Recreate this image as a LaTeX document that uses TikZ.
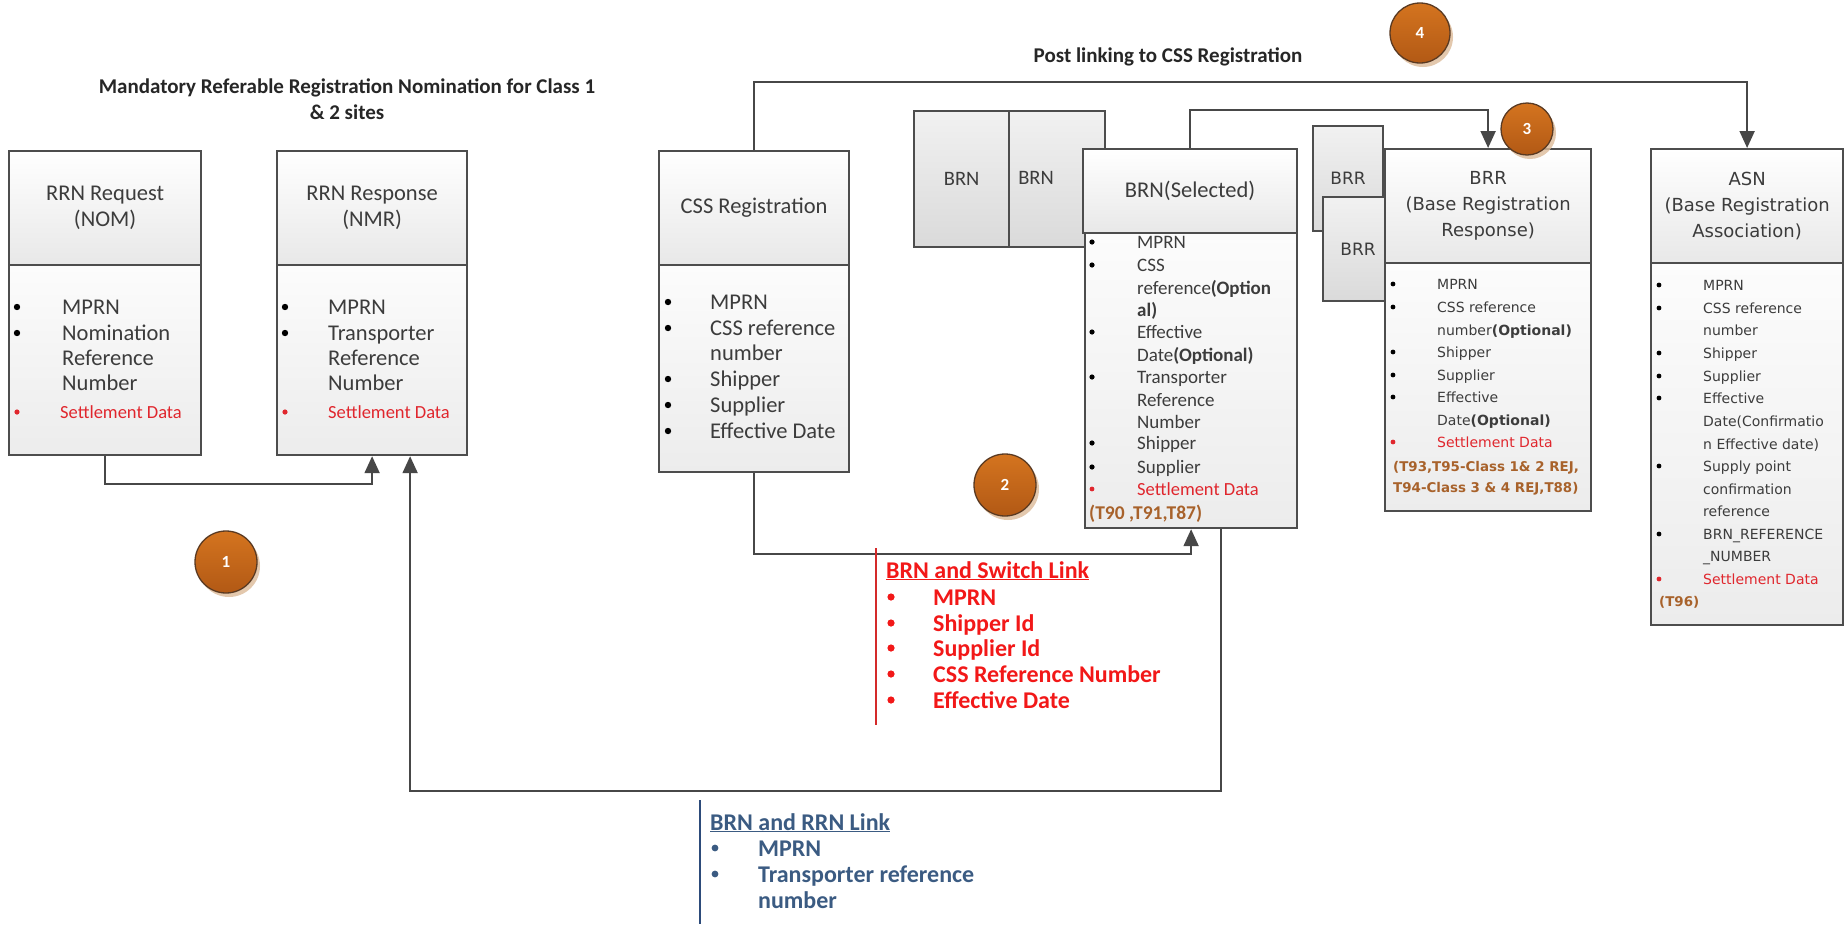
\documentclass[tikz,border=0pt]{standalone}
\usepackage{fontspec}
\setmainfont{Carlito}
\newfontfamily\dvs{DejaVu Sans}
\usetikzlibrary{arrows.meta,shadows,calc}
\definecolor{boxc}{HTML}{4D4D4D}
\definecolor{connc}{HTML}{474747}
\definecolor{txtc}{HTML}{3C3C3C}
\definecolor{setc}{HTML}{E0262D}
\definecolor{brownc}{HTML}{A8622B}
\definecolor{swc}{HTML}{F21818}
\definecolor{rrnc}{HTML}{3B5B82}
\definecolor{redln}{HTML}{D42A2A}
\definecolor{blueln}{HTML}{2D4B7A}
\definecolor{hdrbot}{HTML}{E8E8E8}
\definecolor{bodytop}{HTML}{FCFCFC}
\definecolor{bodybot}{HTML}{ECECEC}
\definecolor{smtop}{HTML}{F1F1F1}
\definecolor{smbot}{HTML}{DADADA}
\definecolor{ctop}{HTML}{D4741F}
\definecolor{cbot}{HTML}{B25915}
\definecolor{cbord}{HTML}{5A3A22}
\definecolor{cshad}{HTML}{DDBB99}
\definecolor{titc}{HTML}{262626}
\pgfdeclarelayer{bg}\pgfsetlayers{bg,main}
\newcounter{ln}
\newcommand\fs[2]{\fontsize{#1}{#2}\selectfont}
\newcommand\li[3]{\stepcounter{ln}\node[lt] (l\theln) at (#1,#2+\off) {#3};}
\newcommand\bu[3]{\fill[#1] (#2,#3) circle (\br);}
\tikzset{
  hdr/.style={draw=boxc, line width=2.2pt, top color=white, bottom color=hdrbot, anchor=north west, inner sep=0pt, align=center, text=txtc, font=\fs{22.5}{26}},
  bod/.style={draw=boxc, line width=2.2pt, top color=bodytop, bottom color=bodybot, anchor=north west, inner sep=0pt},
  smb/.style={draw=boxc, line width=2.2pt, top color=smtop, bottom color=smbot, anchor=north west, inner sep=0pt},
  conn/.style={draw=connc, line width=2pt, -{Triangle[length=17pt,width=15pt]}},
  num/.style={circle, draw=cbord, line width=1.3pt, top color=ctop, bottom color=cbot, text=white, font=\bfseries\fs{17}{17}, inner sep=0pt, drop shadow={shadow xshift=3pt, shadow yshift=-4pt, fill=cshad, opacity=.8}},
  shad/.style={fill=black, opacity=0.12},
  plain/.style={inner sep=0pt}
}
\begin{document}
\begin{tikzpicture}[x=1pt,y=-1pt]
\useasboundingbox[fill=white] (0,0) rectangle (1845,924);

% ---------- titles
\node[plain, align=center, font=\bfseries\fs{21}{26}, text=titc] (t1) at (347,99) {Mandatory Referable Registration Nomination for Class 1\\\& 2 sites};
\node[plain, font=\bfseries\fs{21}{26}, text=titc] (t2) at (1168,57) {Post linking to CSS Registration};

% ---------- stacked BRN boxes
\node[smb, minimum width=101pt, minimum height=136pt] (brn2) at (1003,110) {};
\node[smb, minimum width=95pt, minimum height=136pt, font=\fs{20.5}{22}, text=txtc] (brn1) at (913,110) {BRN};
\node[plain, font=\fs{20.5}{22}, text=txtc] (brn2t) at (1036,178) {BRN};

% ---------- stacked BRR boxes
\node[smb, minimum width=70pt, minimum height=105pt, font=\dvs\fs{17}{20}, text=txtc] (brrA) at (1312,125) {BRR};
\node[smb, minimum width=70pt, minimum height=104pt, font=\dvs\fs{17}{20}, text=txtc] (brrB) at (1322,196) {BRR};

% ---------- RRN Request
\node[bod, minimum width=192pt, minimum height=190pt] (rqb) at (8,264) {};
\node[hdr, minimum width=192pt, minimum height=114pt] (rqh) at (8,150) {RRN Request\\(NOM)};
\begin{scope}[lt/.style={anchor=base west, inner sep=0pt, text=txtc, font=\fs{22.5}{25}}]
\def\off{7}\def\br{3.2pt}
\bu{black}{17}{307}\bu{black}{17}{333}
\li{62}{307}{MPRN}\li{62}{333}{Nomination}\li{62}{358}{Reference}\li{62}{383}{Number}
\def\br{2.6pt}\bu{setc}{17}{412}
\li{60}{411}{\color{setc}\fs{18.5}{20}Settlement Data}
\end{scope}

% ---------- RRN Response
\node[bod, minimum width=190pt, minimum height=190pt] (rrb) at (276,264) {};
\node[hdr, minimum width=190pt, minimum height=114pt] (rrh) at (276,150) {RRN Response\\(NMR)};
\begin{scope}[lt/.style={anchor=base west, inner sep=0pt, text=txtc, font=\fs{22.5}{25}}]
\def\off{7}\def\br{3.2pt}
\bu{black}{285}{307}\bu{black}{285}{333}
\li{328}{307}{MPRN}\li{328}{333}{Transporter}\li{328}{358}{Reference}\li{328}{383}{Number}
\def\br{2.6pt}\bu{setc}{285}{412}
\li{328}{411}{\color{setc}\fs{18.5}{20}Settlement Data}
\end{scope}

% ---------- CSS Registration
\node[bod, minimum width=190pt, minimum height=207pt] (cssb) at (658,264) {};
\node[hdr, minimum width=190pt, minimum height=114pt] (cssh) at (658,150) {CSS Registration};
\begin{scope}[lt/.style={anchor=base west, inner sep=0pt, text=txtc, font=\fs{22.5}{25}}]
\def\off{7}\def\br{3.2pt}
\foreach \yy in {302,328,379,405,431} {\bu{black}{668}{\yy}}
\li{710}{302}{MPRN}\li{710}{328}{CSS reference}\li{710}{353}{number}
\li{710}{379}{Shipper}\li{710}{405}{Supplier}\li{710}{431}{Effective Date}
\end{scope}

% ---------- BRN(Selected)
\node[bod, minimum width=212pt, minimum height=295pt] (bsb) at (1084,232) {};
\begin{scope}[lt/.style={anchor=base west, inner sep=0pt, text=txtc, font=\fs{19}{21}}]
\def\off{6}\def\br{2.6pt}
\foreach \yy in {242,265,332,377,443,467} {\bu{black}{1092}{\yy}}
\li{1137}{242}{MPRN}\li{1137}{265}{CSS}\li{1137}{288}{reference\textbf{(Option}}\li{1137}{310}{\textbf{al)}}
\li{1137}{332}{Effective}\li{1137}{355}{Date\textbf{(Optional)}}
\li{1137}{377}{Transporter}\li{1137}{400}{Reference}\li{1137}{422}{Number}
\li{1137}{443}{Shipper}\li{1137}{467}{Supplier}
\def\br{2.4pt}\bu{setc}{1092}{489}
\li{1137}{489}{\color{setc}\fs{18.5}{20}Settlement Data}
\li{1089}{513}{\color{brownc}\bfseries\fs{19.5}{21}(T90 ,T91,T87)}
\end{scope}
\node[hdr, minimum width=214pt, minimum height=84pt] (bsh) at (1082,148) {BRN(Selected)};

% ---------- BRR
\node[bod, minimum width=206pt, minimum height=248pt] (brrb) at (1384,262) {};
\node[hdr, minimum width=206pt, minimum height=114pt, font=\dvs\fs{18}{26}] (brrh) at (1384,148) {BRR\\(Base Registration\\Response)};
\begin{scope}[lt/.style={anchor=base west, inner sep=0pt, text=txtc, font=\dvs\fs{14}{16}}]
\def\off{5}\def\br{2.4pt}
\foreach \yy in {284,307,352,375,397} {\bu{black}{1393}{\yy}}
\li{1437}{284}{MPRN}\li{1437}{307}{CSS reference}\li{1437}{330}{number\textbf{(Optional)}}
\li{1437}{352}{Shipper}\li{1437}{375}{Supplier}\li{1437}{397}{Effective}\li{1437}{420}{Date\textbf{(Optional)}}
\bu{setc}{1393}{442}
\li{1437}{442}{\color{setc}Settlement Data}
\li{1393}{466}{\color{brownc}\bfseries\fs{13.4}{16}(T93,T95-Class 1\& 2 REJ,}
\li{1393}{487}{\color{brownc}\bfseries\fs{13.4}{16}T94-Class 3 \& 4 REJ,T88)}
\end{scope}

% ---------- ASN
\node[bod, minimum width=192pt, minimum height=362pt] (asnb) at (1650,262) {};
\node[hdr, minimum width=192pt, minimum height=114pt, font=\dvs\fs{18}{26}] (asnh) at (1650,148) {ASN\\(Base Registration\\Association)};
\begin{scope}[lt/.style={anchor=base west, inner sep=0pt, text=txtc, font=\dvs\fs{14}{16}}]
\def\off{5}\def\br{2.4pt}
\foreach \yy in {285,308,353,376,398,466,534} {\bu{black}{1659}{\yy}}
\li{1703}{285}{MPRN}\li{1703}{308}{CSS reference}\li{1703}{330}{number}
\li{1703}{353}{Shipper}\li{1703}{376}{Supplier}\li{1703}{398}{Effective}
\li{1703}{421}{Date(Confirmatio}\li{1703}{444}{n Effective date)}
\li{1703}{466}{Supply point}\li{1703}{489}{confirmation}\li{1703}{511}{reference}
\li{1703}{534}{BRN\_REFERENCE}\li{1703}{556}{\_NUMBER}
\bu{setc}{1659}{579}
\li{1703}{579}{\color{setc}Settlement Data}
\li{1659}{601}{\color{brownc}\bfseries\fs{13.4}{16}(T96)}
\end{scope}

% ---------- shadows
\begin{pgfonlayer}{bg}
\foreach \h/\b in {rqh/rqb, rrh/rrb, cssh/cssb, bsh/bsb, brrh/brrb, asnh/asnb, brn1/brn1, brn2/brn2, brrA/brrA, brrB/brrB}
  {\fill[shad] ([shift={(4,5)}]\h.north west) rectangle ([shift={(4,5)}]\b.south east);}
\end{pgfonlayer}

% ---------- connectors
\coordinate (y1) at (0,484);
\coordinate (y2) at (0,791);
\coordinate (y3) at (0,554);
\coordinate (ytop) at (0,82);
\coordinate (ybrn) at (0,110);
\draw[conn] (rqb.south) -- (rqb.south |- y1) -| (rrb.south);
\draw[conn] ([xshift=30pt]bsb.south) -- ([xshift=30pt]bsb.south |- y2) -| ([xshift=38pt]rrb.south);
\draw[conn] (cssb.south) -- (cssb.south |- y3) -| (bsb.south);
\draw[conn] (cssh.north) -- (cssh.north |- ytop) -| (asnh.north);
\draw[conn] (bsh.north) -- (bsh.north |- ybrn) -| (brrh.north);

% ---------- link notes
\coordinate (rl1) at (876,548); \coordinate (rl2) at (876,725);
\draw[redln, line width=2pt] (rl1) -- (rl2);
\coordinate (bl1) at (700,800); \coordinate (bl2) at (700,924);
\draw[blueln, line width=2pt] (bl1) -- (bl2);
\begin{scope}[lt/.style={anchor=base west, inner sep=0pt, text=swc, font=\bfseries\fs{24}{26}}]
\def\off{8}\def\br{3.6pt}
\li{886}{570}{\underline{BRN and Switch Link}}
\foreach \yy in {597,623,648,674,700} {\bu{swc}{891}{\yy}}
\li{933}{597}{MPRN}\li{933}{623}{Shipper Id}\li{933}{648}{Supplier Id}\li{933}{674}{CSS Reference Number}\li{933}{700}{Effective Date}
\end{scope}
\begin{scope}[lt/.style={anchor=base west, inner sep=0pt, text=rrnc, font=\bfseries\fs{24}{26}}]
\def\off{8}\def\br{3.4pt}
\li{710}{822}{\underline{BRN and RRN Link}}
\foreach \yy in {848,874} {\bu{rrnc}{715}{\yy}}
\li{758}{848}{MPRN}\li{758}{874}{Transporter reference}\li{758}{900}{number}
\end{scope}

% ---------- numbered markers
\node[num, minimum size=62pt] (c1) at (226,562) {1};
\node[num, minimum size=62pt] (c2) at (1005,485) {2};
\node[num, minimum size=52pt] (c3) at (1527,129) {3};
\node[num, minimum size=60pt] (c4) at (1420,33) {4};
\end{tikzpicture}
\end{document}
